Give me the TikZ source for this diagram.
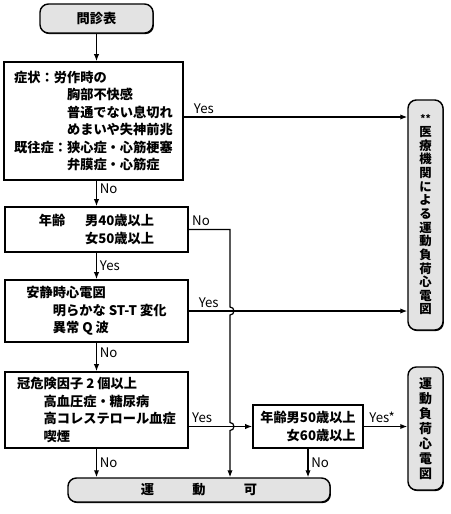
\documentclass[tikz,border=0pt]{standalone}
\usepackage{fontspec}
\setmainfont{Noto Sans CJK JP}
\usetikzlibrary{arrows.meta,shadows}

\begin{document}
\begin{tikzpicture}[
        x=0.025cm, y=-0.025cm,
        check/.style={
            draw,
            line width=1.1pt,
            align=left,
            inner sep=0pt,
            font=\bfseries\fontsize{9.4}{12.5}\selectfont
        },
        terminal/.style={
            draw,
            fill=gray!22,
            line width=1pt,
            rounded corners=6pt,
            drop shadow={shadow xshift=0.6pt, shadow yshift=-0.8pt, fill=black, opacity=1},
            font=\bfseries\fontsize{9.4}{11}\selectfont
        },
        result/.style={
            terminal,
            align=center,
            inner sep=0pt,
            minimum width=0.875cm
        },
        flow/.style={line width=0.85pt, -{Latex[length=5pt,width=3.8pt]}},
        edgelabel/.style={font=\fontsize{9.4}{11}\selectfont, inner sep=2pt}
    ]
        \useasboundingbox (0,0) rectangle (450,514);

        \node[terminal, minimum width=2.825cm, minimum height=0.725cm] (start) at (96.5,18.5) {問診表};
        \node[check, minimum width=4.475cm, minimum height=2.95cm] (q1) at (93.5,121) {症状：労作時の\\\hspace*{4em}胸部不快感\\\hspace*{4em}普通でない息切れ\\\hspace*{4em}めまいや失神前兆\\既往症：狭心症・心筋梗塞\\\hspace*{4em}弁膜症・心筋症};
        \node[check, minimum width=4.575cm, minimum height=1.125cm] (q2) at (96.5,229.5) {年齢\hspace{1.5em}男40歳以上\\\hspace*{3.5em}女50歳以上};
        \node[check, minimum width=4.575cm, minimum height=1.55cm] (q3) at (96.5,311) {安静時心電図\\\hspace*{2em}明らかな ST-T 変化\\\hspace*{2em}異常 Q 波};
        \node[check, minimum width=4.575cm, minimum height=1.9cm] (q4) at (96.5,410) {冠危険因子 2 個以上\\\hspace*{2em}高血圧症・糖尿病\\\hspace*{2em}高コレステロール血症\\\hspace*{2em}喫煙};
        \node[check, align=right, minimum width=2.75cm, minimum height=1.075cm] (q5) at (308,426.5) {年齢男50歳以上\\女60歳以上};

        \node[result, minimum height=5.75cm, font=\bfseries\fontsize{8.8}{9.7}\selectfont] (r1) at (425.5,215) {{\fontsize{7}{7}\selectfont **}\\医\\療\\機\\関\\に\\よ\\る\\運\\動\\負\\荷\\心\\電\\図};
        \node[result, minimum height=3.075cm, font=\bfseries\fontsize{9.2}{10.7}\selectfont] (r2) at (425.5,428.5) {運\\動\\負\\荷\\心\\電\\図};
        \node[terminal, minimum width=6.55cm, minimum height=0.6cm] (goal) at (199,490) {運\hspace{2.9em}動\hspace{2.9em}可};

        \coordinate (jx) at (230,0);

        % main line down the left
        \draw[flow] (start.south) -- (start.south |- q1.north);
        \draw[flow] (q1.south -| start) -- node[edgelabel, right, pos=0.3] {No} (q2.north -| start);
        \draw[flow] (q2.south -| start) -- node[edgelabel, right] {Yes} (q3.north -| start);
        \draw[flow] (q3.south -| start) -- node[edgelabel, right, pos=0.35] {No} (q4.north -| start);
        \draw[flow] (q4.south -| start) -- node[edgelabel, right] {No} (goal.north -| start);

        % branches to the right
        \draw[flow] ([yshift=0.1cm]q1.east) -- node[edgelabel, above right, pos=0.03] {Yes} ([yshift=0.1cm]q1.east -| r1.west);
        \draw[flow] (q3.east) -- node[edgelabel, above right, pos=0.03] {Yes} (q3.east -| r1.west);
        \draw[flow] (q4.east |- q5.west) -- node[edgelabel, above right, pos=0] {Yes} (q5.west);
        \draw[flow] (q5.east) -- node[edgelabel, above right, pos=0.05] {Yes*} (q5.east -| r2.west);
        \draw[flow] (q5.south) -- node[edgelabel, right] {No} (q5.south |- goal.north);
        \draw[flow] (q2.east) -- node[edgelabel, above right, pos=0] {No} (q2.east -| jx)
            -- ([yshift=0.1cm]q3.east -| jx) arc[start angle=90, end angle=-90, radius=0.1cm]
            -- ([yshift=0.1cm]q5.west -| jx) arc[start angle=90, end angle=-90, radius=0.1cm]
            -- (goal.north -| jx);
    \end{tikzpicture}
\end{document}
